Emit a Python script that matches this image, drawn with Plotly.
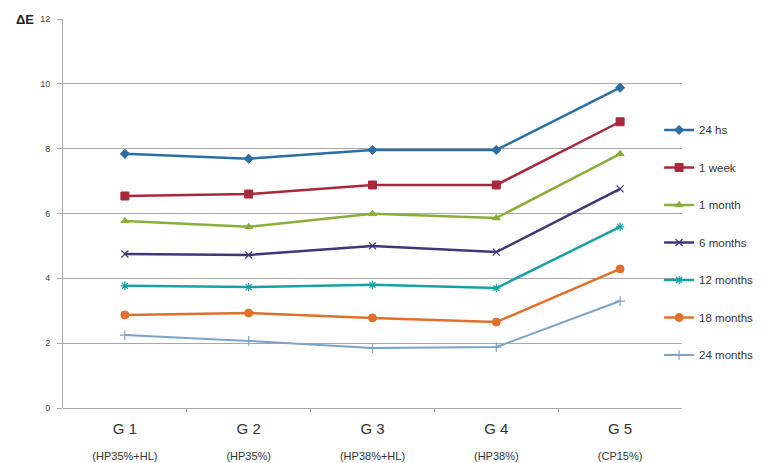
import plotly.graph_objects as go

groups = ["G 1", "G 2", "G 3", "G 4", "G 5"]
subgroups = ["(HP35%+HL)", "(HP35%)", "(HP38%+HL)", "(HP38%)", "(CP15%)"]
series_names = ["24 hs", "1 week", "1 month", "6 months", "12 months", "18 months", "24 months"]
v_24hs = [7.84, 7.69, 7.96, 7.96, 9.88]
v_1week = [6.54, 6.60, 6.88, 6.88, 8.83]
v_1month = [5.77, 5.59, 5.99, 5.86, 7.84]
v_6months = [4.75, 4.72, 5.00, 4.81, 6.76]
v_12months = [3.77, 3.73, 3.80, 3.70, 5.59]
v_18months = [2.87, 2.93, 2.78, 2.65, 4.29]
v_24months = [2.25, 2.07, 1.85, 1.88, 3.30]
y_ticks = [0, 2, 4, 6, 8, 10, 12]

all_values = [v_24hs, v_1week, v_1month, v_6months, v_12months, v_18months, v_24months]
colors = ["#2A6EA6", "#A8283C", "#8AAE3A", "#3E3878", "#17A0A6", "#E0702C", "#7CA2C8"]
symbols = ["diamond", "square", "triangle-up", "x-thin-open", "asterisk-open", "circle", "cross-thin-open"]
sizes = [7, 8, 7, 7, 7, 8, 7]
mlw = [1, 1, 1, 1.2, 1.2, 1, 1.2]

xpos = list(range(len(groups)))
fig = go.Figure()
for name, vals, c, s, sz, lw in zip(series_names, all_values, colors, symbols, sizes, mlw):
    fig.add_trace(go.Scatter(
        x=xpos, y=vals, name=name, mode="lines+markers", legendgroup=name,
        line=dict(color=c, width=2.5 if name != "24 months" else 2),
        marker=dict(symbol=s, size=sz, color=c, line=dict(color=c, width=lw)),
    ))

ticktext = [f"<span style='font-size:15px'>{g}</span><br><span style='font-size:11px'>{sg}</span>"
            for g, sg in zip(groups, subgroups)]

fig.update_layout(
    width=775, height=463,
    margin=dict(l=55, r=101, t=11, b=63),
    paper_bgcolor="white", plot_bgcolor="white",
    font=dict(family="Liberation Sans, Arial, sans-serif", color="#333333"),
    showlegend=True,
    legend=dict(x=0.963, xanchor="left", y=0.752, yanchor="top",
                traceorder="grouped", tracegroupgap=18.5, borderwidth=0,
                font=dict(size=11.5, color="#333333"), bgcolor="rgba(0,0,0,0)"),
    xaxis=dict(range=[-0.5, 4.5], tickvals=xpos, ticktext=ticktext, showgrid=False,
               showline=False, zeroline=False, ticks="", automargin=False,
               tickfont=dict(size=20), ticklabelstandoff=5,
               minor=dict(tickvals=[0.5, 1.5, 2.5, 3.5], ticks="outside", ticklen=3,
                          tickcolor="#999999", showgrid=False)),
    yaxis=dict(range=[0, 12], tickvals=y_ticks, showgrid=True, gridcolor="#A8A8A8", gridwidth=1,
               showline=True, linecolor="#A8A8A8", linewidth=1, zeroline=True,
               zerolinecolor="#A8A8A8", zerolinewidth=1,
               ticks="outside", ticklen=5, tickcolor="#A8A8A8", ticklabelstandoff=5,
               tickfont=dict(size=9, color="#444444"), automargin=False),
    annotations=[dict(text="<b>ΔE</b>", xref="paper", yref="paper", x=-0.062, y=1.0,
                      xanchor="center", yanchor="middle", showarrow=False,
                      font=dict(size=13, color="#222222"))],
)
fig.write_html("out.html")
